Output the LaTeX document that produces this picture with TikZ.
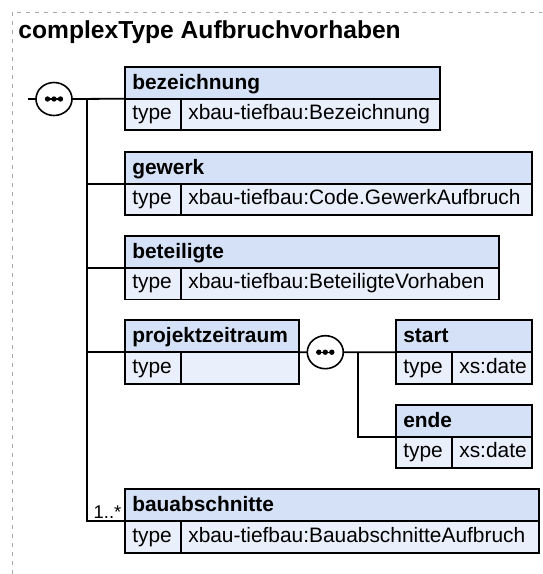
\documentclass[tikz,border=0pt]{standalone}
\usepackage{fontspec}
\setmainfont{Liberation Sans}
\usetikzlibrary{shapes.geometric}
\definecolor{hdrfill}{HTML}{D5E1F6}
\definecolor{cellfill}{HTML}{EAF0FB}
\definecolor{framegray}{HTML}{A8A8A8}
\tikzset{
  boxbase/.style={draw=black, line width=1.8pt, rectangle, outer sep=0pt,
    inner xsep=7pt, inner ysep=0pt, align=left,
    font=\fontsize{20.9}{24}\selectfont},
  hdr/.style={boxbase, fill=hdrfill, minimum height=32pt, text height=17.2pt,
    text depth=4pt, font=\fontsize{20.9}{24}\selectfont\bfseries},
  cell/.style={boxbase, fill=cellfill, minimum height=31.5pt, text height=15pt,
    text depth=5pt},
  seq/.style={ellipse, draw=black, line width=1.6pt, fill=white,
    minimum width=36pt, minimum height=33pt, inner sep=0pt, outer sep=0pt},
  seqdots/.style={line width=1.4pt},
  conn/.style={draw=black, line width=1.8pt},
  frameline/.style={draw=framegray, line width=1pt, dash pattern=on 4pt off 5pt},
}
\newcommand\xsdelem[6]{%
  \pgfmathsetmacro\hdrw{#4-14}%
  \pgfmathsetmacro\valw{#4-70}%
  \node[hdr, text width=\hdrw pt, anchor=north west] (#1) at (#2,#3) {#5};
  \node[cell, text width=42pt, anchor=north west] (#1-t) at (#1.south west) {type};
  \node[cell, text width=\valw pt, anchor=north west] (#1-v) at (#1-t.north east) {#6};
}
\newcommand\seqmark[1]{%
  \draw[seqdots] ([xshift=-9pt]#1.center) -- ([xshift=9pt]#1.center);
  \fill ([xshift=-6.5pt]#1.center) circle (2.7pt);
  \fill (#1.center) circle (2.7pt);
  \fill ([xshift=6.5pt]#1.center) circle (2.7pt);
}
\begin{document}
\begin{tikzpicture}[x=1pt, y=-1pt]
\useasboundingbox (0,0) rectangle (542,574);
% frame
\coordinate (fbl) at (12,574);
\coordinate (ftl) at (12,12);
\coordinate (ftr) at (542,12);
\draw[frameline] (fbl) -- (ftl) -- (ftr);
% title
\node[anchor=base west, inner sep=0pt, font=\fontsize{24.6}{29}\selectfont\bfseries]
  (title) at (18.3,38.3) {complexType Aufbruchvorhaben};
% elements
\xsdelem{bez}{125.3}{66.7}{315}{bezeichnung}{xbau-tiefbau:Bezeichnung}
\xsdelem{gew}{125.3}{151.7}{406.7}{gewerk}{xbau-tiefbau:Code.GewerkAufbruch}
\xsdelem{bet}{125.3}{236}{373.4}{beteiligte}{xbau-tiefbau:BeteiligteVorhaben}
\xsdelem{pz}{125.3}{320.3}{173.4}{projektzeitraum}{}
\xsdelem{st}{396.3}{320.3}{135.7}{start}{xs:date}
\xsdelem{en}{396.3}{404.7}{135.7}{ende}{xs:date}
\xsdelem{bau}{125.3}{489.3}{414}{bauabschnitte}{xbau-tiefbau:BauabschnitteAufbruch}
% sequence compositors
\coordinate (in) at (28.3,99);
\node[seq] (s1) at (54,99) {};
\node[seq] (s2) at (325.3,352.2) {};
\seqmark{s1}
\seqmark{s2}
\coordinate (j1) at (87.3,99);
\coordinate (j2) at (358.3,352.2);
% connectors
\draw[conn] (in) -- (s1.west);
\draw[conn] (s1.east) -- (bez.south west);
\draw[conn] (j1) |- (gew.south west);
\draw[conn] (j1) |- (bet.south west);
\draw[conn] (j1) |- (pz.south west);
\draw[conn] (j1) |- (bau.south west);
\draw[conn] (pz.south east) -- (s2.west);
\draw[conn] (s2.east) -- (st.south west);
\draw[conn] (j2) |- (en.south west);
% occurrence label
\node[anchor=base east, inner sep=0pt, font=\fontsize{18.4}{22}\selectfont]
  (occ) at (121.5,518.7) {1..*};
\end{tikzpicture}
\end{document}
